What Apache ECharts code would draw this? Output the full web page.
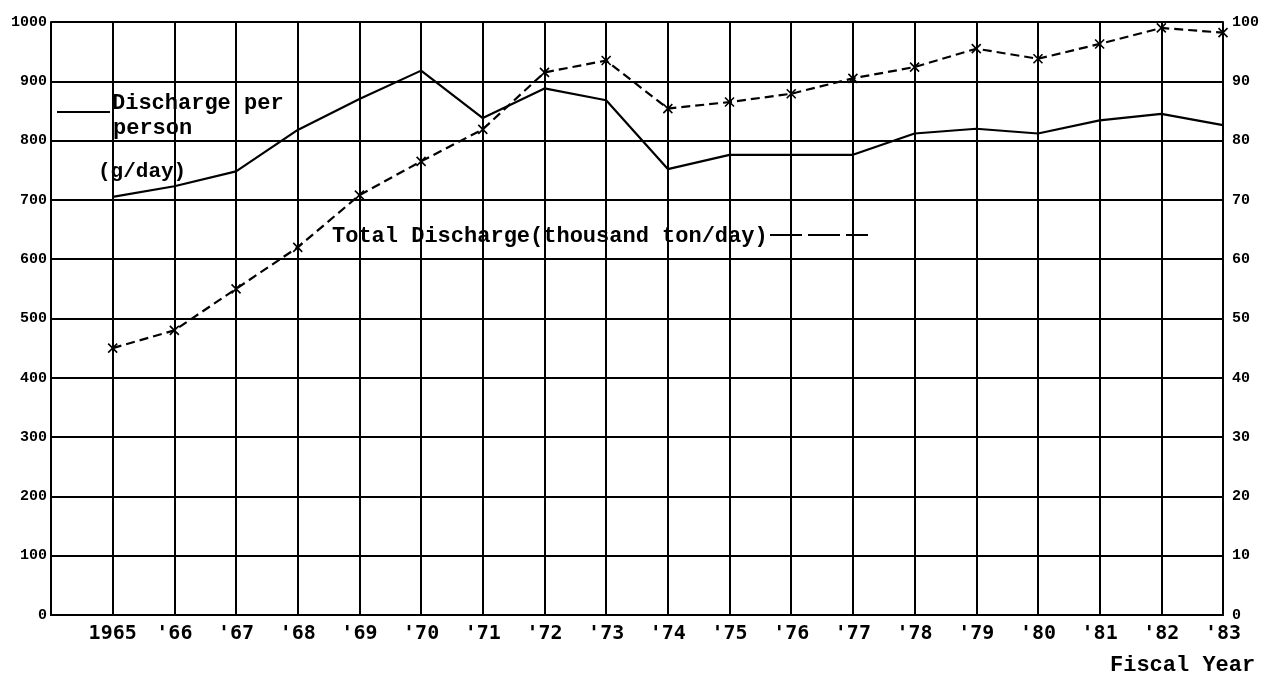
<!DOCTYPE html>
<html>
<head>
<meta charset="utf-8">
<script src="https://cdn.jsdelivr.net/npm/echarts@6/dist/echarts.min.js"></script>
<style>
html,body{margin:0;padding:0;background:#fff;}
#chart{width:1264px;height:675px;}
</style>
</head>
<body>
<div id="chart"></div>
<script>
// ---- data ----
const years = [1965,1966,1967,1968,1969,1970,1971,1972,1973,1974,1975,1976,1977,1978,1979,1980,1981,1982,1983];
const yearLabels = ['1965',"'66","'67","'68","'69","'70","'71","'72","'73","'74","'75","'76","'77","'78","'79","'80","'81","'82","'83"];
const perPerson = [705,723,748,818,870,918,838,888,868,752,776,776,776,812,820,812,834,845,826]; // g/day
const totalDischarge = [45,48,55,62,70.8,76.5,81.9,91.5,93.5,85.4,86.5,87.9,90.5,92.4,95.5,93.8,96.3,99,98.2]; // thousand ton/day
const leftTicks = [0,100,200,300,400,500,600,700,800,900,1000];
const rightTicks = [0,10,20,30,40,50,60,70,80,90,100];

const chart = echarts.init(document.getElementById('chart'));
const MONO = '"Liberation Mono", "DejaVu Sans Mono", monospace';
const TICKF = '"DejaVu Sans Mono", "Liberation Mono", monospace';

const option = {
  backgroundColor: '#fff',
  animation: false,
  grid: {left: 51, right: 41, top: 22, bottom: 60, containLabel: false},
  xAxis: {
    type: 'value', min: 1964, max: 1983, interval: 1,
    axisLine: {show: true, lineStyle: {color: '#000', width: 2}},
    axisTick: {show: false},
    splitLine: {show: true, lineStyle: {color: '#000', width: 2}},
    axisLabel: {
      color: '#000', fontFamily: TICKF, fontWeight: 'bold', fontSize: 20, margin: 9,
      formatter: v => { const i = years.indexOf(v); return i >= 0 ? yearLabels[i] : ''; }
    }
  },
  yAxis: [
    {
      type: 'value', min: leftTicks[0], max: leftTicks[leftTicks.length-1], interval: 100,
      axisLine: {show: true, lineStyle: {color: '#000', width: 2}},
      axisTick: {show: false},
      splitLine: {show: true, lineStyle: {color: '#000', width: 2}},
      axisLabel: {color: '#000', fontFamily: MONO, fontWeight: 'bold', fontSize: 15, margin: 4,
        formatter: v => String(v)}
    },
    {
      type: 'value', min: rightTicks[0], max: rightTicks[rightTicks.length-1], interval: 10,
      position: 'right',
      axisLine: {show: true, lineStyle: {color: '#000', width: 2}},
      axisTick: {show: false},
      splitLine: {show: false},
      axisLabel: {color: '#000', fontFamily: MONO, fontWeight: 'bold', fontSize: 15, margin: 9,
        formatter: v => String(v)}
    }
  ],
  series: [
    {
      name: 'Discharge per person', type: 'line', yAxisIndex: 0,
      data: years.map((y, i) => [y, perPerson[i]]),
      showSymbol: false, symbol: 'none',
      lineStyle: {color: '#000', width: 2.2}
    },
    {
      name: 'Total Discharge', type: 'line', yAxisIndex: 1,
      data: years.map((y, i) => [y, totalDischarge[i]]),
      symbol: 'path://M0,0L10,10M10,0L0,10', symbolSize: 9,
      itemStyle: {color: 'none', borderColor: '#000', borderWidth: 1.6},
      lineStyle: {color: '#000', width: 2.2, type: [9, 5]}
    }
  ],
  graphic: [
    {type: 'line', shape: {x1: 57, y1: 112, x2: 110, y2: 112}, style: {stroke: '#000', lineWidth: 2}},
    {type: 'text', left: 112, top: 92, style: {text: 'Discharge per', font: 'bold 22px ' + MONO, fill: '#000'}},
    {type: 'text', left: 113, top: 117, style: {text: 'person', font: 'bold 22px ' + MONO, fill: '#000'}},
    {type: 'text', left: 98, top: 161, style: {text: '(g/day)', font: 'bold 21px ' + MONO, fill: '#000'}},
    {type: 'text', left: 332, top: 225, style: {text: 'Total Discharge(thousand ton/day)', font: 'bold 22px ' + MONO, fill: '#000'}},
    {type: 'line', shape: {x1: 770, y1: 235, x2: 868, y2: 235}, style: {stroke: '#000', lineWidth: 2, lineDash: [32, 6]}},
    {type: 'text', left: 1110, top: 654, style: {text: 'Fiscal Year', font: 'bold 22px ' + MONO, fill: '#000'}}
  ]
};
chart.setOption(option);
</script>
</body>
</html>
